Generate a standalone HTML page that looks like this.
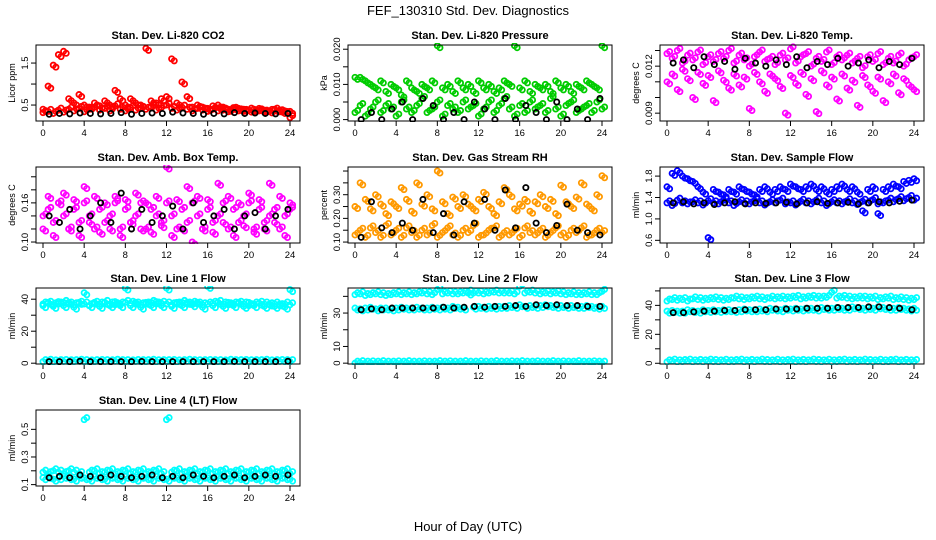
<!DOCTYPE html>
<html><head><meta charset="utf-8"><style>
html,body{margin:0;padding:0;background:#fff}
svg{display:block;font-family:"Liberation Sans",sans-serif}
</style></head><body>
<svg id="c" width="936" height="540" viewBox="0 0 936 540">
<text x="468" y="15" text-anchor="middle" font-size="13">FEF_130310  Std. Dev. Diagnostics</text>
<text x="468" y="531" text-anchor="middle" font-size="13">Hour of Day (UTC)</text>
</svg>
<script>
const hours = [];
for (let i = 0; i <= 48; i++) hours.push(i / 2);
const blackHours = [0.6,1.6,2.6,3.6,4.6,5.6,6.6,7.6,8.6,9.6,10.6,11.6,12.6,13.6,14.6,15.6,16.6,17.6,18.6,19.6,20.6,21.6,22.6,23.8];
const xTicks = [0,4,8,12,16,20,24];

const co2A=[0.32,0.35,0.3,0.38,0.33,0.4,0.36,0.42,0.34,0.4,0.45,0.38,0.42,0.36,0.48,0.4,0.36,0.44,0.38,0.42,0.4,0.46,0.38,0.44,0.5,0.42,0.38,0.45,0.4,0.36,0.42,0.38,0.35,0.4,0.36,0.38,0.34,0.4,0.36,0.35,0.38,0.34,0.36,0.33,0.35,0.38,0.34,0.3,0.2];
const co2B=[0.4,0.95,1.45,1.7,1.78,0.65,0.55,0.75,0.5,0.45,0.55,0.48,0.6,0.5,0.85,0.65,0.5,0.65,0.55,0.5,1.85,0.6,0.55,0.65,0.7,1.6,0.55,1.05,0.7,0.45,0.5,0.45,0.42,0.48,0.5,0.45,0.4,0.44,0.42,0.4,0.38,0.4,0.42,0.38,0.36,0.4,0.38,0.36,0.35];
const co2K=[0.28,0.3,0.29,0.31,0.3,0.29,0.3,0.32,0.28,0.3,0.31,0.3,0.33,0.31,0.3,0.28,0.3,0.29,0.32,0.3,0.31,0.3,0.29,0.3];

const presA=[0.002,0.004,0.001,0.003,0.005,0.002,0.004,0.003,0.001,0.005,0.003,0.002,0.004,0.006,0.002,0.003,0.005,0.001,0.004,0.003,0.002,0.005,0.003,0.004,0.001,0.003,0.005,0.002,0.004,0.006,0.003,0.001,0.004,0.002,0.005,0.003,0.004,0.002,0.006,0.003,0.001,0.004,0.005,0.002,0.003,0.004,0.002,0.005,0.003];
const presB=[0.012,0.012,0.011,0.010,0.009,0.011,0.008,0.010,0.009,0.007,0.011,0.009,0.008,0.010,0.009,0.011,0.021,0.009,0.010,0.008,0.011,0.009,0.010,0.008,0.011,0.009,0.010,0.008,0.009,0.011,0.010,0.021,0.009,0.011,0.008,0.010,0.009,0.010,0.008,0.011,0.009,0.010,0.008,0.010,0.009,0.011,0.010,0.009,0.021];
const presK=[0.0,0.002,0.0,0.003,0.005,0.0,0.006,0.004,0.0,0.002,0.0,0.005,0.003,0.0,0.006,0.0,0.004,0.002,0.0,0.005,0.0,0.003,0.0,0.006];

const ltA=[0.0128,0.0125,0.0130,0.0122,0.0127,0.0124,0.0129,0.0121,0.0126,0.0123,0.0128,0.0125,0.0130,0.0122,0.0127,0.0124,0.0120,0.0126,0.0129,0.0123,0.0125,0.0121,0.0127,0.0124,0.0131,0.0122,0.0126,0.0128,0.0120,0.0125,0.0123,0.0129,0.0121,0.0126,0.0124,0.0127,0.0122,0.0125,0.0119,0.0126,0.0123,0.0128,0.0121,0.0125,0.0122,0.0127,0.0120,0.0124,0.0126];
const ltB=[0.0110,0.0115,0.0105,0.0118,0.0112,0.0100,0.0116,0.0109,0.0114,0.0098,0.0117,0.0111,0.0106,0.0115,0.0108,0.0113,0.0093,0.0116,0.0110,0.0104,0.0115,0.0112,0.0107,0.0090,0.0114,0.0109,0.0116,0.0102,0.0112,0.0091,0.0117,0.0108,0.0113,0.0099,0.0115,0.0106,0.0111,0.0095,0.0114,0.0108,0.0104,0.0113,0.0098,0.0110,0.0115,0.0103,0.0112,0.0108,0.0105];
const ltK=[0.0122,0.0124,0.0119,0.0126,0.0121,0.0123,0.0118,0.0125,0.0122,0.0120,0.0124,0.0121,0.0126,0.0119,0.0123,0.0121,0.0125,0.0120,0.0122,0.0124,0.0119,0.0123,0.0121,0.0125];

const btA=[0.14,0.15,0.13,0.16,0.14,0.12,0.15,0.13,0.16,0.14,0.12,0.15,0.13,0.14,0.16,0.12,0.15,0.13,0.14,0.16,0.12,0.15,0.14,0.13,0.16,0.14,0.12,0.15,0.13,0.16,0.14,0.12,0.15,0.13,0.14,0.16,0.12,0.15,0.13,0.14,0.16,0.12,0.15,0.13,0.14,0.15,0.12,0.14,0.15];
const btB=[0.12,0.17,0.11,0.16,0.175,0.12,0.165,0.11,0.185,0.13,0.17,0.115,0.16,0.12,0.17,0.11,0.165,0.13,0.175,0.12,0.16,0.115,0.17,0.125,0.215,0.11,0.165,0.12,0.185,0.10,0.17,0.12,0.165,0.115,0.19,0.13,0.17,0.11,0.16,0.125,0.175,0.115,0.165,0.12,0.19,0.13,0.17,0.11,0.16];
const btK=[0.14,0.13,0.15,0.12,0.14,0.16,0.13,0.175,0.12,0.15,0.13,0.14,0.155,0.12,0.16,0.13,0.14,0.15,0.12,0.14,0.145,0.12,0.14,0.15];

const rhA=[0.13,0.15,0.12,0.16,0.14,0.12,0.17,0.13,0.15,0.12,0.16,0.14,0.12,0.15,0.13,0.17,0.12,0.14,0.16,0.13,0.12,0.15,0.14,0.17,0.12,0.13,0.15,0.16,0.12,0.14,0.13,0.15,0.12,0.16,0.14,0.13,0.15,0.12,0.14,0.16,0.13,0.12,0.15,0.14,0.16,0.12,0.13,0.15,0.14];
const rhB=[0.25,0.35,0.28,0.24,0.3,0.26,0.22,0.27,0.25,0.33,0.28,0.23,0.35,0.26,0.3,0.24,0.4,0.27,0.22,0.29,0.25,0.3,0.26,0.24,0.28,0.31,0.25,0.22,0.27,0.33,0.3,0.24,0.26,0.28,0.23,0.27,0.3,0.25,0.28,0.22,0.34,0.27,0.25,0.29,0.35,0.26,0.24,0.3,0.38];
const rhK=[0.12,0.27,0.16,0.14,0.18,0.15,0.28,0.14,0.22,0.13,0.27,0.18,0.28,0.15,0.32,0.16,0.33,0.18,0.14,0.17,0.26,0.15,0.14,0.13];

const sfA=[1.3,1.25,1.35,1.3,1.28,1.32,1.3,1.26,1.34,1.3,1.28,1.35,1.3,1.25,1.32,1.3,1.28,1.34,1.3,1.26,1.32,1.3,1.35,1.28,1.3,1.26,1.33,1.3,1.28,1.35,1.3,1.25,1.32,1.3,1.28,1.34,1.3,1.27,1.33,1.3,1.36,1.28,1.3,1.35,1.32,1.38,1.34,1.4,1.35];
const sfB=[1.6,1.85,1.9,1.8,1.75,1.7,1.6,1.5,0.65,1.55,1.5,1.45,1.55,1.5,1.6,1.55,1.5,1.45,1.55,1.6,1.5,1.55,1.6,1.55,1.65,1.6,1.55,1.6,1.65,1.55,1.6,1.5,1.55,1.6,1.65,1.55,1.6,1.5,1.15,1.55,1.6,1.1,1.55,1.6,1.65,1.6,1.7,1.72,1.75];
const sfK=[1.3,1.32,1.28,1.3,1.27,1.3,1.32,1.28,1.3,1.29,1.3,1.31,1.28,1.3,1.32,1.29,1.3,1.31,1.28,1.3,1.32,1.3,1.33,1.35];

const l1A=[37,37.5,36.5,37,38,37,36.5,37.5,37,36,37.5,37,38,37,36.5,37,38,37.5,37,36.5,37,38,37,37.5,37,36.5,37,38,37,37.5,37,36.5,37,37.5,38,37,36.5,37,37.5,37,36,37,37.5,37,36.5,37,36,37,36.5];
const l1B=[36,38,35.5,38.5,36,38,35,38,44,36,38,35.5,38,36,38.5,36,47,36,38,35,38,36,38.5,36,47,35.5,38,36,38,36.5,38,35,48,36,38,35.5,38,36,38,35.5,38,36,37.5,35.5,37,35.5,37,35,46];
const l1C=[1,1.2,0.8,1,1.1,0.9,1,1.2,1,0.8,1,1.1,1,0.9,1.2,1,1,0.8,1.1,1,1,1.2,0.9,1,1,1.1,0.8,1,1.2,1,0.9,1,1.1,1,1,0.8,1.2,1,1,1.1,0.9,1,1,1.2,0.8,1,1.1,1,1];
const l1K=[1,1,1,1.2,1,1,1,1,1,1.1,1,1,1,1,1,1,1,1,1.1,1,1,1,1,1.2];

const l2A=[41,41.5,40.5,41,41.5,41,40.5,41,41.5,41,41.5,41,41.5,42,41.5,41,44,41.5,42,41.5,41.5,42,42.5,42,42,41.5,42,42.5,42,42,42,41.5,46,42,42.5,42,41.5,42,41.5,42,41.5,41,41.5,41,41,41.5,41,41,43];
const l2B=[33,32.5,33,33.5,32.5,33,33,32.5,33,33.5,33,33,33.5,33,33,33.5,33,33.5,33,34,33.5,33,42,33.5,34,33.5,34,33.5,34,34,34.5,34,35,34,34.5,34,34.5,35,34.5,34,34.5,34,34.5,34,34,34.5,34,33.5,34];
const l2C=[0,0.3,0,0.2,0,0.3,0,0,0.2,0,0.3,0,0,0.2,0,0,0.3,0,0.2,0,0,0.3,0,0,0.2,0,0,0.3,0,0,0.2,0,0.3,0,0,0.2,0,0,0.3,0,0.2,0,0,0.3,0,0,0.2,0,0];
const l2K=[32,32.5,32,33,33,33,33,33,33.5,33,33.5,34,33.5,34,34,34.5,34,35,34.5,35,34.5,34.5,34,34];

const l3A=[43,44,43.5,44,43,44.5,44,43.5,44,44.5,44,43.5,44,45,44.5,44,44.5,45,44.5,44,45,44.5,45,44.5,45,45.5,44.5,45,45.5,45,45,45.5,49,45,45.5,45,44.5,45,45,44.5,45,44,44.5,45,44,44.5,44,43.5,44];
const l3B=[36,36.5,36,36,37,36.5,36,37,36.5,37,36.5,37,37,36.5,37,37.5,37,37,37.5,37,38,37.5,37,38,37.5,38,37.5,38,38,37.5,38.5,38,38,38.5,38,38,39,38.5,38,38.5,38,39,38.5,38,38,38.5,38,37.5,38];
const l3C=[1,1.5,1,1.2,1.5,1,1.3,1,1.5,1.2,1,1.4,1,1.2,1.5,1,1.3,1,1.5,1.2,1,1.4,1,1.2,1.5,1,1.3,1,1.5,1.2,1,1.4,1,1.2,1.5,1,1.3,1,1.5,1.2,1,1.4,1,1.2,1.5,1,1.3,1,1.2];
const l3K=[35,35,35.5,36,36,36.5,36.5,37,37,37,37.5,37.5,37.5,38,38,38,38.5,38.5,38.5,39,39,38.5,38,37];

const ltfA=[0.19,0.18,0.2,0.19,0.18,0.2,0.19,0.18,0.57,0.19,0.2,0.18,0.19,0.2,0.18,0.19,0.2,0.18,0.19,0.2,0.18,0.19,0.2,0.18,0.57,0.19,0.2,0.18,0.19,0.2,0.18,0.19,0.2,0.18,0.19,0.2,0.18,0.19,0.2,0.18,0.19,0.2,0.18,0.19,0.2,0.18,0.19,0.2,0.18];
const ltfB=[0.15,0.16,0.14,0.15,0.16,0.15,0.14,0.16,0.15,0.14,0.16,0.15,0.14,0.16,0.15,0.14,0.16,0.15,0.14,0.16,0.15,0.14,0.16,0.15,0.14,0.16,0.15,0.14,0.16,0.15,0.14,0.16,0.15,0.14,0.16,0.15,0.14,0.16,0.15,0.14,0.16,0.15,0.14,0.16,0.15,0.14,0.16,0.15,0.14];
const ltfK=[0.15,0.16,0.15,0.17,0.16,0.15,0.17,0.16,0.15,0.16,0.17,0.15,0.16,0.15,0.17,0.16,0.15,0.16,0.17,0.15,0.16,0.17,0.16,0.17];

const NS='http://www.w3.org/2000/svg';
const svg=document.getElementById('c');
function mk(tag,attrs,parent){const e=document.createElementNS(NS,tag);for(const k in attrs)e.setAttribute(k,attrs[k]);(parent||svg).appendChild(e);return e;}

const panels=[
 {col:0,row:0,title:'Stan. Dev. Li-820 CO2',ylab:'Licor ppm',ymin:0.12,ymax:1.93,ticks:[0.5,1.0,1.5],labels:['0.5','','1.5'],color:'#ff0000',series:[co2A,co2B],black:co2K},
 {col:1,row:0,title:'Stan. Dev. Li-820 Pressure',ylab:'kPa',ymin:-0.0004,ymax:0.0212,ticks:[0,0.005,0.01,0.015,0.02],labels:['0.000','','0.010','','0.020'],color:'#00cc00',series:[presA,presB],black:presK},
 {col:2,row:0,title:'Stan. Dev. Li-820 Temp.',ylab:'degrees C',ymin:0.0085,ymax:0.01335,ticks:[0.009,0.010,0.011,0.012,0.013],labels:['0.009','','','0.012',''],color:'#ff00ff',series:[ltA,ltB],black:ltK},
 {col:0,row:1,title:'Stan. Dev. Amb. Box Temp.',ylab:'degrees C',ymin:0.0985,ymax:0.215,ticks:[0.10,0.12,0.14,0.16,0.18,0.20],labels:['0.10','','','0.16','',''],color:'#ff00ff',series:[btA,btB],black:btK},
 {col:1,row:1,title:'Stan. Dev. Gas Stream RH',ylab:'percent',ymin:0.096,ymax:0.417,ticks:[0.10,0.15,0.20,0.25,0.30,0.35,0.40],labels:['0.10','','0.20','','0.30','',''],color:'#ff9900',series:[rhA,rhB],black:rhK},
 {col:2,row:1,title:'Stan. Dev. Sample Flow',ylab:'ml/min',ymin:0.55,ymax:1.97,ticks:[0.6,1.0,1.4,1.8],labels:['0.6','1.0','1.4','1.8'],color:'#0000ff',series:[sfA,sfB],black:sfK},
 {col:0,row:2,title:'Stan. Dev. Line 1 Flow',ylab:'ml/min',ymin:-0.5,ymax:47,ticks:[0,10,20,30,40],labels:['0','','20','','40'],color:'#00ffff',series:[l1A,l1B,l1C],black:l1K},
 {col:1,row:2,title:'Stan. Dev. Line 2 Flow',ylab:'ml/min',ymin:-0.5,ymax:45,ticks:[0,10,20,30,40],labels:['0','10','','30',''],color:'#00ffff',series:[l2A,l2B,l2C],black:l2K},
 {col:2,row:2,title:'Stan. Dev. Line 3 Flow',ylab:'ml/min',ymin:-0.5,ymax:52,ticks:[0,10,20,30,40,50],labels:['0','','20','','40',''],color:'#00ffff',series:[l3A,l3B,l3C],black:l3K},
 {col:0,row:3,title:'Stan. Dev. Line 4 (LT) Flow',ylab:'ml/min',ymin:0.09,ymax:0.64,ticks:[0.1,0.2,0.3,0.4,0.5],labels:['0.1','','0.3','','0.5'],color:'#00ffff',series:[ltfA,ltfB],black:ltfK}
];
const colLeft=[36,348,660], rowTop=[45,167,288,410], W=264, H=76;

panels.forEach((p,pi)=>{
  const L=colLeft[p.col], T=rowTop[p.row];
  const g=mk('g',{});
  
  
  const xs=h=>L+7+h*247/24;
  const ys=v=>T+H-(v-p.ymin)/(p.ymax-p.ymin)*H;
  const t=mk('text',{x:L+W/2,y:T-6,'text-anchor':'middle','font-size':'11','font-weight':'bold'},g);
  t.textContent=p.title;
  
  
  const yl=mk('text',{x:0,y:0,transform:`translate(${L-21},${T+H/2}) rotate(-90)`,'text-anchor':'middle','font-size':'9'},g);
  yl.textContent=p.ylab;
  
  
  const ax=mk('g',{stroke:'#000','stroke-width':'1',fill:'none'},g);
  
  
  xTicks.forEach(v=>{
    mk('line',{x1:xs(v),x2:xs(v),y1:T+H,y2:T+H+5},ax);
    const tx=mk('text',{x:xs(v),y:T+H+15,'text-anchor':'middle','font-size':'9.5',stroke:'none',fill:'#000'},g);
    tx.textContent=v;
    
    
  });
  p.ticks.forEach((v,i)=>{
    mk('line',{x1:L-5,x2:L,y1:ys(v),y2:ys(v)},ax);
    if(p.labels[i]){
      const ty=mk('text',{x:0,y:0,transform:`translate(${L-8},${ys(v)}) rotate(-90)`,'text-anchor':'middle','font-size':'9.5'},g);
      ty.textContent=p.labels[i];
      
      
    }
  });
  const clip='clip'+pi;
  const cp=mk('clipPath',{id:clip},g); mk('rect',{x:L+1,y:T-2,width:W-2,height:H+3},cp);
  const pts=mk('g',{'clip-path':`url(#${clip})`,fill:'none'},g);
  p.series.forEach((arr,si)=>{
    arr.forEach((v,i)=>{
      const c=mk('circle',{cx:xs(hours[i]),cy:ys(v),r:2.6,stroke:p.color,'stroke-width':'1.8'},pts);
      
      
      // denser band: second offset marker
      const c2=mk('circle',{cx:xs(hours[i])+2.6,cy:ys(v)+(si%2?2:-2),r:2.6,stroke:p.color,'stroke-width':'1.8'},pts);
      
      
    });
  });
  p.black.forEach((v,i)=>{
    const c=mk('circle',{cx:xs(blackHours[i]),cy:ys(v),r:2.6,stroke:'#000','stroke-width':'1.8'},pts);
    
    
  });
  mk('rect',{x:L,y:T,width:W,height:H,fill:'none',stroke:'#000','stroke-width':'1'},g);
});
</script>
</body></html>
